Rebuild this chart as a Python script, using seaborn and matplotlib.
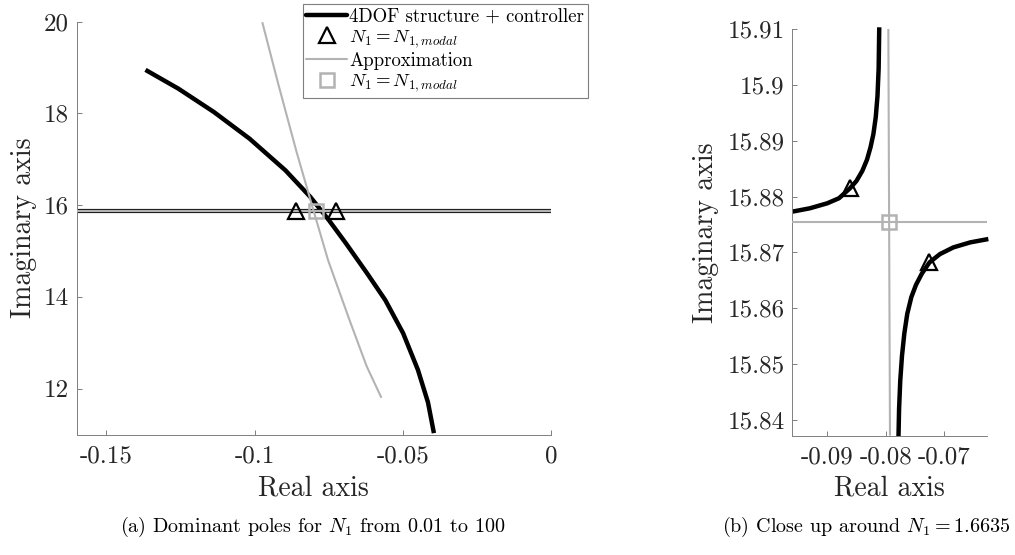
import numpy as np
import pandas as pd
import matplotlib
matplotlib.use("Agg")
import matplotlib.pyplot as plt
from matplotlib.ticker import FuncFormatter, FixedLocator
from matplotlib.lines import Line2D
import seaborn as sns

# ---------------- data ----------------
# (a) wide view
arc_re = [-0.1368, -0.1257, -0.1137, -0.1017, -0.0896, -0.0812, -0.0749,
          -0.0692, -0.0620, -0.0559, -0.0499, -0.0449, -0.0415, -0.0395]
arc_im = [18.95, 18.54, 18.03, 17.45, 16.76, 16.18, 15.67,
          15.17, 14.51, 13.93, 13.21, 12.41, 11.70, 11.03]
flat_re = [-0.16, 0.0]
flat_im_sys = [15.876, 15.876]
flat_im_app = [15.875, 15.875]
appr_re = [-0.0974, -0.0920, -0.0860, -0.0802, -0.0752, -0.0680, -0.0622, -0.0572]
appr_im = [19.99, 18.64, 17.20, 15.90, 14.80, 13.50, 12.49, 11.80]
tri_re = [-0.0861, -0.0725]
tri_im = [15.8815, 15.8682]
sq_re = [-0.0794]
sq_im = [15.8754]

# (b) close-up
up_re = [-0.0960, -0.0930, -0.0900, -0.0880, -0.0861, -0.0850, -0.0840,
         -0.0832, -0.0826, -0.0821, -0.0817, -0.0814, -0.0812, -0.0811]
up_im = [15.8773, 15.8779, 15.8788, 15.8797, 15.8815, 15.8828, 15.8846,
         15.8866, 15.8888, 15.8912, 15.8942, 15.8980, 15.9030, 15.9103]
lo_re = [-0.0778, -0.0777, -0.0775, -0.0772, -0.0768, -0.0763, -0.0756,
         -0.0748, -0.0738, -0.0725, -0.0707, -0.0684, -0.0655, -0.0624]
lo_im = [15.8370, 15.8420, 15.8470, 15.8515, 15.8555, 15.8590, 15.8620,
         15.8642, 15.8662, 15.8682, 15.8697, 15.8709, 15.8718, 15.8724]
vert_re = [-0.07954, -0.07926]
vert_im = [15.9100, 15.8372]
horiz_re = [-0.0960, -0.0626]
horiz_im = [15.8754, 15.8754]

xticks_a = [-0.15, -0.1, -0.05, 0]
yticks_a = [12, 14, 16, 18, 20]
xticks_b = [-0.09, -0.08, -0.07]
yticks_b = [15.84, 15.85, 15.86, 15.87, 15.88, 15.89, 15.9, 15.91]

legend_labels = ["4DOF structure + controller", r"$N_1 = N_{1,modal}$",
                 "Approximation", r"$N_1 = N_{1,modal}$"]
caption_a = r"(a) Dominant poles for $N_1$ from 0.01 to 100"
caption_b = r"(b) Close up around $N_1 = 1.6635$"

# ---------------- style ----------------
sns.set_theme(style="white")
plt.rcParams.update({
    "font.family": ["cmr10", "DejaVu Serif"],
    "mathtext.fontset": "cm",
    "axes.unicode_minus": False,
    "axes.formatter.use_mathtext": True,
    "text.color": "#262626",
})

BLACK = "black"
GRAY = "#b3b3b3"
LW_SYS = 3.2
LW_APP = 1.5
TICK_FS = 18
LABEL_FS = 20

fig = plt.figure(figsize=(10.15, 5.55), dpi=100)
axA = fig.add_axes([0.07557, 0.2171, 0.4673, 0.7438])
axB = fig.add_axes([0.7806, 0.2150, 0.1921, 0.7328])

fmt = FuncFormatter(lambda v, p: "%g" % round(v, 6))


def line(ax, xs, ys, color, lw, z):
    df = pd.DataFrame({"x": xs, "y": ys})
    sns.lineplot(data=df, x="x", y="y", sort=False, estimator=None,
                 color=color, linewidth=lw, ax=ax, zorder=z,
                 solid_capstyle="butt", solid_joinstyle="round")


def style_axes(ax, xt, yt, xlim, ylim, ylab_x, xlab_y):
    ax.set_xlim(*xlim)
    ax.set_ylim(*ylim)
    ax.xaxis.set_major_locator(FixedLocator(xt))
    ax.yaxis.set_major_locator(FixedLocator(yt))
    ax.xaxis.set_major_formatter(fmt)
    ax.yaxis.set_major_formatter(fmt)
    for s in ["top", "right"]:
        ax.spines[s].set_visible(False)
    for s in ["left", "bottom"]:
        ax.spines[s].set_color("#7f7f7f")
        ax.spines[s].set_linewidth(0.7)
    ax.tick_params(direction="in", length=3.5, width=0.7, color="#7f7f7f",
                   labelsize=TICK_FS, labelcolor="#262626",
                   left=True, bottom=True)
    ax.tick_params(axis="x", pad=7.5)
    ax.tick_params(axis="y", pad=5.5)
    ax.set_xlabel("Real axis", fontsize=LABEL_FS, color="#262626")
    ax.set_ylabel("Imaginary axis", fontsize=LABEL_FS, color="#262626")
    ax.xaxis.set_label_coords(0.5, xlab_y)
    ax.yaxis.set_label_coords(ylab_x, 0.5)
    ax.set_facecolor("white")
    ax.grid(False)


# ---- (a) ----
line(axA, flat_re, flat_im_sys, BLACK, 3.0, 2)
line(axA, arc_re, arc_im, BLACK, LW_SYS, 2)
line(axA, flat_re, flat_im_app, GRAY, 1.7, 3)
line(axA, appr_re, appr_im, GRAY, LW_APP, 3)
axA.plot(tri_re, tri_im, ls="none", marker="^", ms=11, mfc="none",
         mec=BLACK, mew=1.6, zorder=4)
axA.plot(sq_re, sq_im, ls="none", marker="s", ms=10.5, mfc="none",
         mec=GRAY, mew=1.8, zorder=5)
style_axes(axA, xticks_a, yticks_a, (-0.16, 0.0), (11, 20), -0.0837, -0.099)

# ---- (b) ----
line(axB, up_re, up_im, BLACK, LW_SYS, 2)
line(axB, lo_re, lo_im, BLACK, LW_SYS, 2)
line(axB, vert_re, vert_im, GRAY, LW_APP, 3)
line(axB, horiz_re, horiz_im, GRAY, LW_APP, 3)
axB.plot(tri_re, tri_im, ls="none", marker="^", ms=11, mfc="none",
         mec=BLACK, mew=1.6, zorder=4)
axB.plot(sq_re, sq_im, ls="none", marker="s", ms=10.5, mfc="none",
         mec=GRAY, mew=1.8, zorder=5)
style_axes(axB, xticks_b, yticks_b, (-0.0960, -0.06258), (15.8372, 15.91),
           -0.376, -0.098)
for a in (axA, axB):
    for child in a.get_lines():
        child.set_clip_on(False)

# ---- legend ----
handles = [
    Line2D([], [], color=BLACK, lw=LW_SYS),
    Line2D([], [], ls="none", marker="^", ms=11, mfc="none", mec=BLACK, mew=1.6),
    Line2D([], [], color=GRAY, lw=LW_APP),
    Line2D([], [], ls="none", marker="s", ms=10.5, mfc="none", mec=GRAY, mew=1.8),
]
leg = fig.legend(handles, legend_labels, loc="upper left",
                 bbox_to_anchor=(302.7 / 1015, 1 - 4 / 555),
                 bbox_transform=fig.transFigure, fontsize=13.5,
                 frameon=True, fancybox=False, framealpha=1,
                 edgecolor="#7f7f7f", borderpad=0.2, handlelength=2.17,
                 handletextpad=0.1, labelspacing=0.12, borderaxespad=0)
leg.get_frame().set_linewidth(0.8)
for t in leg.get_texts():
    t.set_color("black")

# ---- captions ----
fig.text(313 / 1015, 1 - 527 / 555, caption_a, ha="center", va="center",
         fontsize=14.5, color="black")
fig.text(866 / 1015, 1 - 527 / 555, caption_b, ha="center", va="center",
         fontsize=14.5, color="black")

fig.savefig("out.png", dpi=100, facecolor="white")
